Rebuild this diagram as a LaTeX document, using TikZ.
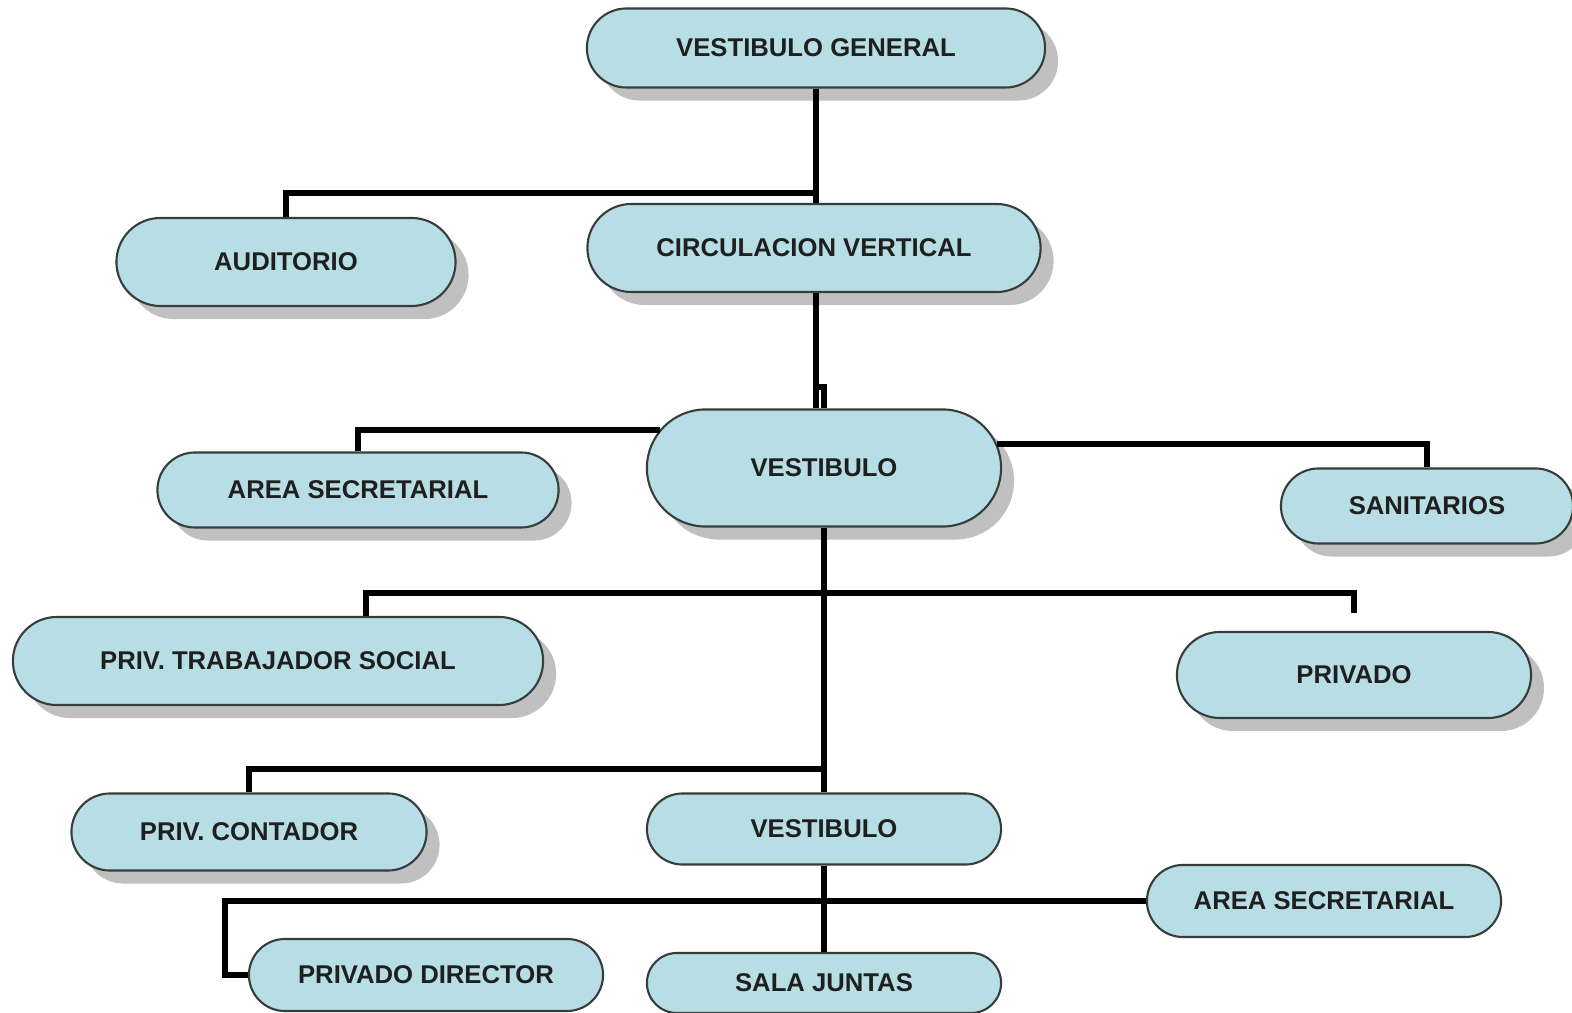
\documentclass[tikz,border=0pt]{standalone}
\usepackage{fontspec}
\setmainfont{Liberation Sans}
\usetikzlibrary{shapes.misc,shadows,calc}
\definecolor{boxblue}{RGB}{183,222,228}
\definecolor{edgegray}{RGB}{55,60,60}
\definecolor{shadegray}{RGB}{192,192,192}

\begin{document}
\begin{tikzpicture}[
  x=0.01cm, y=-0.01cm,
  area/.style={rounded rectangle, draw=edgegray, line width=0.6pt, fill=boxblue, inner sep=2pt, text=black!88, font=\fontsize{7.3}{8}\selectfont\bfseries},
  shaded/.style={drop shadow={shadow xshift=0.13cm, shadow yshift=-0.13cm, fill=shadegray, opacity=1}},
  link/.style={line width=1.6pt, black}
]
\useasboundingbox (0,0) rectangle (1572,1013);

% upper levels
\node[area, shaded, minimum width=4.72cm, minimum height=0.79cm] (vg) at (816,48) {VESTIBULO GENERAL};
\node[area, shaded, minimum width=3.53cm, minimum height=0.88cm] (aud) at (286,262) {AUDITORIO};
\node[area, shaded, minimum width=4.67cm, minimum height=0.88cm] (cv) at (814,248) {CIRCULACION VERTICAL};

\node[area, shaded, minimum width=4.15cm, minimum height=0.75cm] (as1) at (358,490) {AREA SECRETARIAL};
\node[area, shaded, minimum width=3.68cm, minimum height=1.17cm] (v1) at (824,468) {VESTIBULO};
\node[area, shaded, minimum width=3.06cm, minimum height=0.75cm] (san) at (1427,506) {SANITARIOS};

\node[area, shaded, minimum width=5.44cm, minimum height=0.88cm] (pts) at (278,661) {PRIV. TRABAJADOR SOCIAL};
\node[area, shaded, minimum width=3.68cm, minimum height=0.86cm] (priv) at (1354,675) {PRIVADO};

% lower levels
\node[area, shaded, minimum width=3.69cm, minimum height=0.77cm] (pc) at (249,832) {PRIV. CONTADOR};
\node[area, minimum width=3.68cm, minimum height=0.71cm] (v2) at (824,829) {VESTIBULO};
\node[area, minimum width=3.68cm, minimum height=0.72cm] (as2) at (1324,901) {AREA SECRETARIAL};
\node[area, minimum width=3.68cm, minimum height=0.72cm] (pd) at (426,975) {PRIVADO DIRECTOR};
\node[area, minimum width=3.68cm, minimum height=0.60cm] (sj) at (824,983) {SALA JUNTAS};

\coordinate (privtop) at ($(priv.north)+(0,-18)$);
\coordinate (ptstop) at ($(pts.north)+(88,0)$);
\coordinate (pdj) at (225,901);

\draw[link] (vg.south) -- (vg.south |- cv.north);
\draw[link] (vg.south |- 0,193) -| (aud.north);
\draw[link] (vg.south |- cv.south) -- (vg.south |- v1.north);
\draw[link] (vg.south |- 0,387) -| (v1.north);
\draw[link] (v1.167) -| (as1.north);
\draw[link] (v1.8) -| (san.north);
\draw[link] (v1.south) -- (v2.north);
\draw[link] (ptstop) |- (privtop |- 0,593) -- (privtop);
\draw[link] (pc.north) |- (v2.north |- 0,769);
\draw[link] (v2.south) -- (sj.north);
\draw[link] (as2.west) -- (pdj) |- (pd.west);

\end{tikzpicture}
\end{document}
